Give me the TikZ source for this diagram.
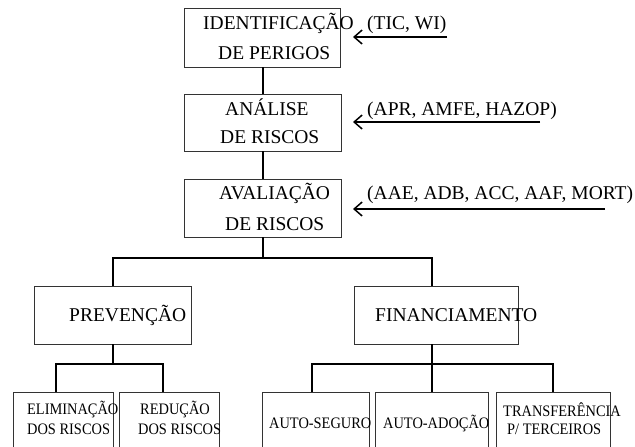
\documentclass[tikz,border=0pt]{standalone}
\usepackage{fontspec}
\setmainfont{Liberation Serif}
\newfontfamily\narrowserif[FakeStretch=0.9]{Liberation Serif}
\usetikzlibrary{arrows.meta}
\tikzset{
  box/.style={draw=black!80, line width=0.9pt, inner sep=0pt, outer sep=0pt},
  conn/.style={draw=black, line width=2pt},
  ref/.style={draw=black, line width=1.5pt, -{Straight Barb[length=8pt,width=14pt,line width=1.5pt]}},
  big/.style={anchor=base west, inner sep=0pt, font=\fontsize{19.5}{19.5}\selectfont},
  small/.style={anchor=base west, inner sep=0pt, font=\narrowserif\fontsize{16}{16}\selectfont},
}
\begin{document}
\begin{tikzpicture}[x=1pt,y=-1pt]
\useasboundingbox (0,0) rectangle (635,447);
\clip (0,0) rectangle (635,447);
% main boxes
\node[box, minimum width=156pt, minimum height=59pt] (id) at (262,37.5) {};
\node[box, minimum width=157pt, minimum height=57pt] (an) at (262.5,122.5) {};
\node[box, minimum width=157pt, minimum height=58pt] (av) at (262.5,208) {};
\node[box, minimum width=157pt, minimum height=58pt] (prev) at (112.5,315) {};
\node[box, minimum width=164pt, minimum height=58pt] (fin) at (436,315) {};
% bottom boxes (cut by the lower edge)
\node[box, minimum width=100pt, minimum height=80pt] (elim) at (63,432) {};
\node[box, minimum width=100pt, minimum height=80pt] (red) at (169,432) {};
\node[box, minimum width=107pt, minimum height=80pt] (aseg) at (315.5,432) {};
\node[box, minimum width=113pt, minimum height=80pt] (aado) at (431.5,432) {};
\node[box, minimum width=114pt, minimum height=80pt] (transf) at (553,432) {};
% texts
\node[big] (tid1) at (203,30) {IDENTIFICAÇÃO};
\node[big] (tid2) at (218,59) {DE PERIGOS};
\node[big] (tan1) at (225,115) {ANÁLISE};
\node[big] (tan2) at (220,143) {DE RISCOS};
\node[big] (tav1) at (219,199) {AVALIAÇÃO};
\node[big] (tav2) at (225,230) {DE RISCOS};
\node[big] (tprev) at (69,321) {PREVENÇÃO};
\node[big] (tfin) at (375,321) {FINANCIAMENTO};
\node[big] (rid) at (367,30) {(TIC, WI)};
\node[big] (ran) at (367,115) {(APR, AMFE, HAZOP)};
\node[big] (rav) at (367,199) {(AAE, ADB, ACC, AAF, MORT)};
\node[small] (tel1) at (27,414) {ELIMINAÇÃO};
\node[small] (tel2) at (27,434) {DOS RISCOS};
\node[small] (tre1) at (140,414) {REDUÇÃO};
\node[small] (tre2) at (138,434) {DOS RISCOS};
\node[small] (tas) at (269,428) {AUTO-SEGURO};
\node[small] (taa) at (383,428) {AUTO-ADOÇÃO};
\node[small] (ttr1) at (503,416) {TRANSFERÊNCIA};
\node[small] (ttr2) at (507,434) {P/ TERCEIROS};
% junctions
\coordinate (j1) at (263,258);
\coordinate (j2) at (113,364);
\coordinate (j3) at (432,364);
% connectors
\draw[conn] (id.south -| j1) -- (an.north -| j1);
\draw[conn] (an.south -| j1) -- (av.north -| j1);
\draw[conn] (av.south -| j1) -- (j1);
\draw[conn] (prev.north -| j2) |- (j1) -| (fin.north -| j3);
\draw[conn] (prev.south -| j2) -- (j2);
\coordinate (e1) at (56,364);
\coordinate (e2) at (163,364);
\draw[conn] (elim.north -| e1) |- (j2) -| (red.north -| e2);
\coordinate (f1) at (312,364);
\coordinate (f3) at (553,364);
\draw[conn] (fin.south -| j3) -- (aado.north -| j3);
\draw[conn] (aseg.north -| f1) |- (j3) -| (transf.north -| f3);
% reference arrows
\coordinate (a1s) at (447,37);
\coordinate (a1e) at (353,37);
\coordinate (a2s) at (540,122);
\coordinate (a2e) at (353,122);
\coordinate (a3s) at (605,209);
\coordinate (a3e) at (353,209);
\draw[ref] (a1s) -- (a1e);
\draw[ref] (a2s) -- (a2e);
\draw[ref] (a3s) -- (a3e);
\end{tikzpicture}
\end{document}
